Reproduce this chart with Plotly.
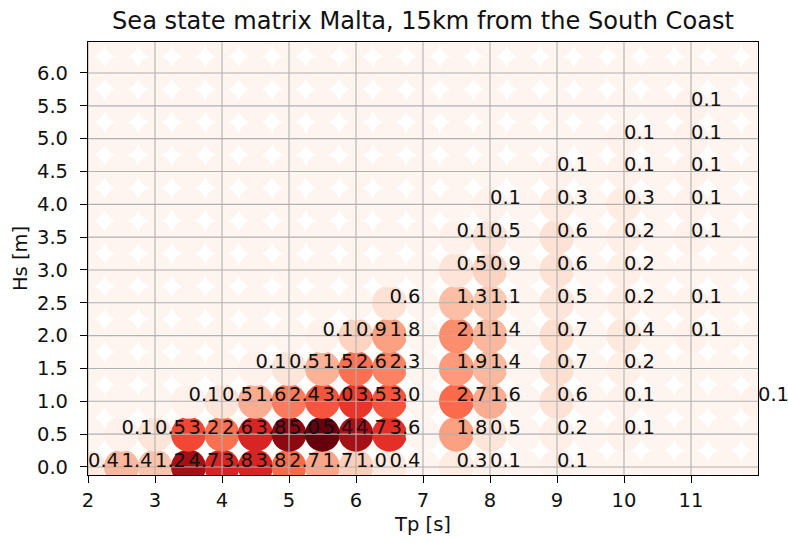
import plotly.graph_objects as go

# ---- data ----
tp_values = [2.0, 2.5, 3.0, 3.5, 4.0, 4.5, 5.0, 5.5, 6.0, 6.5, 7.0,
             7.5, 8.0, 8.5, 9.0, 9.5, 10.0, 10.5, 11.0, 11.5, 12.0]
hs_values = [0.0, 0.5, 1.0, 1.5, 2.0, 2.5, 3.0, 3.5, 4.0, 4.5, 5.0, 5.5, 6.0, 6.5]

# occurrence (%) per Hs row, one entry per Tp column above
hs_00 = [0.4, 1.4, 1.2, 4.7, 3.8, 3.8, 2.7, 1.7, 1.0, 0.4, 0, 0.3, 0.1, 0, 0.1, 0, 0, 0, 0, 0, 0]
hs_05 = [0, 0.1, 0.5, 3.2, 2.6, 3.8, 5.0, 5.4, 4.7, 3.6, 0, 1.8, 0.5, 0, 0.2, 0, 0.1, 0, 0, 0, 0]
hs_10 = [0, 0, 0, 0.1, 0.5, 1.6, 2.4, 3.0, 3.5, 3.0, 0, 2.7, 1.6, 0, 0.6, 0, 0.1, 0, 0, 0, 0.1]
hs_15 = [0, 0, 0, 0, 0, 0.1, 0.5, 1.5, 2.6, 2.3, 0, 1.9, 1.4, 0, 0.7, 0, 0.2, 0, 0, 0, 0]
hs_20 = [0, 0, 0, 0, 0, 0, 0, 0.1, 0.9, 1.8, 0, 2.1, 1.4, 0, 0.7, 0, 0.4, 0, 0.1, 0, 0]
hs_25 = [0, 0, 0, 0, 0, 0, 0, 0, 0, 0.6, 0, 1.3, 1.1, 0, 0.5, 0, 0.2, 0, 0.1, 0, 0]
hs_30 = [0, 0, 0, 0, 0, 0, 0, 0, 0, 0, 0, 0.5, 0.9, 0, 0.6, 0, 0.2, 0, 0, 0, 0]
hs_35 = [0, 0, 0, 0, 0, 0, 0, 0, 0, 0, 0, 0.1, 0.5, 0, 0.6, 0, 0.2, 0, 0.1, 0, 0]
hs_40 = [0, 0, 0, 0, 0, 0, 0, 0, 0, 0, 0, 0, 0.1, 0, 0.3, 0, 0.3, 0, 0.1, 0, 0]
hs_45 = [0, 0, 0, 0, 0, 0, 0, 0, 0, 0, 0, 0, 0, 0, 0.1, 0, 0.1, 0, 0.1, 0, 0]
hs_50 = [0, 0, 0, 0, 0, 0, 0, 0, 0, 0, 0, 0, 0, 0, 0, 0, 0.1, 0, 0.1, 0, 0]
hs_55 = [0, 0, 0, 0, 0, 0, 0, 0, 0, 0, 0, 0, 0, 0, 0, 0, 0, 0, 0.1, 0, 0]
hs_60 = [0] * 21
hs_65 = [0] * 21

x_ticks = [2, 3, 4, 5, 6, 7, 8, 9, 10, 11]
y_ticks = [0.0, 0.5, 1.0, 1.5, 2.0, 2.5, 3.0, 3.5, 4.0, 4.5, 5.0, 5.5, 6.0]

title_text = "Sea state matrix Malta, 15km from the South Coast"
x_title = "Tp [s]"
y_title = "Hs [m]"

# ---- style ----
REDS = ['rgb(255,245,240)', 'rgb(254,224,210)', 'rgb(252,187,161)',
        'rgb(252,146,114)', 'rgb(251,106,74)', 'rgb(239,59,44)',
        'rgb(203,24,29)', 'rgb(165,15,21)', 'rgb(103,0,13)']
colorscale = [[i / (len(REDS) - 1), c] for i, c in enumerate(REDS)]
FONT = "DejaVu Sans"
FS = 19.5
X_RANGE = [2, 12]
Y_RANGE = [-0.122, 6.472]
PLOT_H = 542 - 42 - 67

rows = [hs_00, hs_05, hs_10, hs_15, hs_20, hs_25, hs_30, hs_35,
        hs_40, hs_45, hs_50, hs_55, hs_60, hs_65]

px_, py_, pc_ = [], [], []
tx_, ty_, tt_ = [], [], []
for hs, row in zip(hs_values, rows):
    for tp, v in zip(tp_values, row):
        px_.append(tp); py_.append(hs); pc_.append(v)
        if v > 0:
            tx_.append(tp); ty_.append(hs); tt_.append(f"{v:.1f}")

fig = go.Figure()
fig.add_trace(go.Scatter(
    x=px_, y=py_, mode="markers",
    marker=dict(size=35, color=pc_, colorscale=colorscale, cmin=0, cmax=max(pc_),
                line=dict(width=0)),
    cliponaxis=True, hoverinfo="skip", showlegend=False))

# grid lines above the circles
gx, gy = [], []
for t in x_ticks:
    gx += [t, t, None]; gy += [Y_RANGE[0], Y_RANGE[1], None]
for t in y_ticks:
    gx += [X_RANGE[0], X_RANGE[1], None]; gy += [t, t, None]
fig.add_trace(go.Scatter(x=gx, y=gy, mode="lines",
                         line=dict(color="#b0b0b0", width=1.1),
                         hoverinfo="skip", showlegend=False))

# value labels (left aligned, baseline at the point)
shift = 0.25 * FS * (Y_RANGE[1] - Y_RANGE[0]) / PLOT_H
fig.add_trace(go.Scatter(
    x=tx_, y=ty_, text=tt_, mode="text", textposition="top right",
    textfont=dict(family=FONT, size=FS, color="#111111"),
    yaxis="y2", cliponaxis=False, hoverinfo="skip", showlegend=False))

axis_common = dict(ticks="outside", ticklen=7, tickwidth=1.2, tickcolor="black",
                   showline=True, linecolor="black", linewidth=1.2, mirror=True,
                   showgrid=False, zeroline=False,
                   tickfont=dict(family=FONT, size=FS, color="#111111"))
fig.update_layout(
    width=788, height=542,
    margin=dict(l=88, r=30, t=42, b=67),
    paper_bgcolor="white", plot_bgcolor="white",
    title=dict(text=title_text, x=0.5, xref="paper", xanchor="center",
               y=1 - 21 / 542, yref="container", yanchor="middle",
               font=dict(family=FONT, size=24.1, color="#111111")),
    xaxis=dict(range=X_RANGE, tickvals=x_ticks, ticktext=[str(t) for t in x_ticks],
               title=dict(text=x_title, font=dict(family=FONT, size=FS, color="#111111"),
                          standoff=6),
               **axis_common),
    yaxis=dict(range=Y_RANGE, tickvals=y_ticks, ticktext=[f"{t:.1f}" for t in y_ticks],
               ticklabelstandoff=8,
               title=dict(text=y_title, font=dict(family=FONT, size=FS, color="#111111"),
                          standoff=4),
               **axis_common),
    yaxis2=dict(range=[Y_RANGE[0] + shift, Y_RANGE[1] + shift], overlaying="y",
                anchor="x", visible=False),
)
fig.write_html("out.html")
